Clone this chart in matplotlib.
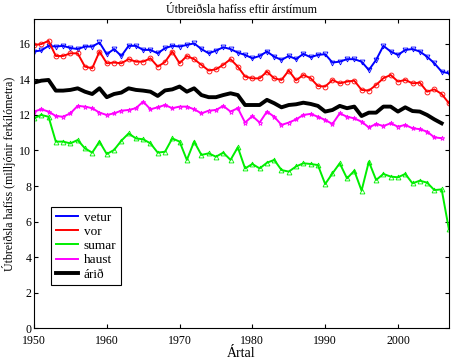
import matplotlib
matplotlib.use('Agg')
import matplotlib.pyplot as plt

plt.rcParams['font.family'] = ['Liberation Serif', 'DejaVu Serif']
plt.rcParams['font.size'] = 8.6

years = list(range(1950, 2008))
years_short = list(range(1950, 2007))

vetur = [15.57, 15.63, 15.89, 15.85, 15.89, 15.77, 15.71, 15.85, 15.85, 16.08,
         15.42, 15.71, 15.32, 15.89, 15.89, 15.66, 15.66, 15.47, 15.76, 15.89,
         15.85, 15.94, 16.03, 15.71, 15.47, 15.62, 15.81, 15.71, 15.51, 15.38,
         15.19, 15.32, 15.57, 15.28, 15.10, 15.32, 15.14, 15.44, 15.25, 15.38,
         15.42, 14.95, 15.00, 15.14, 15.14, 15.00, 14.53, 15.10, 15.89, 15.57,
         15.38, 15.66, 15.71, 15.57, 15.28, 14.91, 14.44, 14.34]
vor = [15.94, 15.99, 16.17, 15.32, 15.32, 15.47, 15.47, 14.72, 14.63, 15.57,
       14.91, 14.95, 14.91, 15.14, 15.00, 15.00, 15.19, 14.72, 14.98, 15.57,
       14.91, 15.32, 15.14, 14.82, 14.50, 14.57, 14.82, 15.14, 14.72, 14.16,
       14.06, 14.06, 14.44, 14.06, 13.97, 14.50, 13.95, 14.25, 14.07, 13.63,
       13.60, 13.97, 13.78, 13.88, 13.93, 13.41, 13.37, 13.69, 14.07, 14.25,
       13.88, 13.97, 13.78, 13.82, 13.31, 13.44, 13.18, 12.66]
sumar = [11.81, 12.00, 11.90, 10.50, 10.50, 10.40, 10.59, 10.12, 9.88, 10.50,
         9.80, 10.03, 10.55, 10.96, 10.68, 10.63, 10.40, 9.88, 9.93, 10.68,
         10.50, 9.47, 10.50, 9.75, 9.84, 9.65, 9.88, 9.47, 10.18, 8.99,
         9.24, 8.99, 9.31, 9.47, 8.90, 8.81, 9.10, 9.28, 9.24, 9.18,
         8.11, 8.71, 9.28, 8.43, 8.86, 7.74, 9.37, 8.34, 8.68, 8.53,
         8.49, 8.68, 8.15, 8.30, 8.19, 7.77, 7.81, 5.56]
haust = [12.19, 12.32, 12.19, 11.94, 11.90, 12.09, 12.51, 12.47, 12.38, 12.13,
         12.00, 12.09, 12.24, 12.28, 12.38, 12.75, 12.32, 12.43, 12.56, 12.38,
         12.47, 12.47, 12.32, 12.09, 12.24, 12.28, 12.51, 12.19, 12.38, 11.57,
         11.94, 11.57, 12.19, 11.90, 11.44, 11.57, 11.75, 12.00, 12.06, 11.90,
         11.72, 11.49, 12.09, 11.90, 11.81, 11.62, 11.30, 11.49, 11.38, 11.53,
         11.34, 11.44, 11.25, 11.20, 11.06, 10.74, 10.69]
arid = [13.82, 13.93, 13.97, 13.37, 13.37, 13.41, 13.50, 13.31, 13.18, 13.50,
        13.00, 13.18, 13.26, 13.50, 13.41, 13.37, 13.31, 13.07, 13.38, 13.44,
        13.60, 13.31, 13.50, 13.12, 13.00, 13.00, 13.12, 13.22, 13.12, 12.56,
        12.56, 12.56, 12.85, 12.66, 12.43, 12.56, 12.60, 12.69, 12.62, 12.51,
        12.19, 12.28, 12.51, 12.38, 12.47, 11.94, 12.13, 12.13, 12.47, 12.47,
        12.19, 12.43, 12.22, 12.19, 12.00, 11.75, 11.53]

fig = plt.figure(figsize=(4.53, 3.59), dpi=100)
ax = fig.add_axes([0.075, 0.086, 0.916, 0.861])

ax.plot(years, vetur, '-', color='#0000ff', lw=1.4, marker='v', ms=3.5,
        mfc='none', mew=0.6, label='vetur')
ax.plot(years, vor, '-', color='#ff0000', lw=1.4, marker='o', ms=3.5,
        mfc='none', mew=0.6, label='vor')
ax.plot(years, sumar, '-', color='#00ee00', lw=1.4, marker='^', ms=3.5,
        mfc='none', mew=0.6, label='sumar')
ax.plot(years_short, haust, '-', color='#ff00ff', lw=1.4, marker='*', ms=3.5,
        mfc='none', mew=0.6, label='haust')
ax.plot(years_short, arid, '-', color='black', lw=2.8, label='árið')

ax.set_xlim(1950, 2007)
ax.set_ylim(0, 17.4)
ax.set_xticks(range(1950, 2001, 10))
ax.set_yticks(range(0, 17, 2))
ax.tick_params(direction='in', top=True, right=True, length=3, pad=2)
ax.tick_params(axis='x', pad=5)

ax.set_title('Útbreiðsla hafíss eftir árstímum', fontsize=8.6, pad=4)
ax.set_xlabel('Ártal', fontsize=10, labelpad=0)
ax.set_ylabel('Útbreiðsla hafíss (milljónir ferkílómetra)', fontsize=8.6, labelpad=2)

leg = ax.legend(loc='lower left', bbox_to_anchor=(0.041, 0.139), borderaxespad=0,
                handlelength=1.7, fancybox=False, edgecolor='black', framealpha=1,
                borderpad=0.35, labelspacing=0.15, handletextpad=0.45, fontsize=9.5)
leg.get_frame().set_linewidth(0.8)
for h in leg.legend_handles:
    h.set_marker('')

fig.savefig('out.png', dpi=100)
